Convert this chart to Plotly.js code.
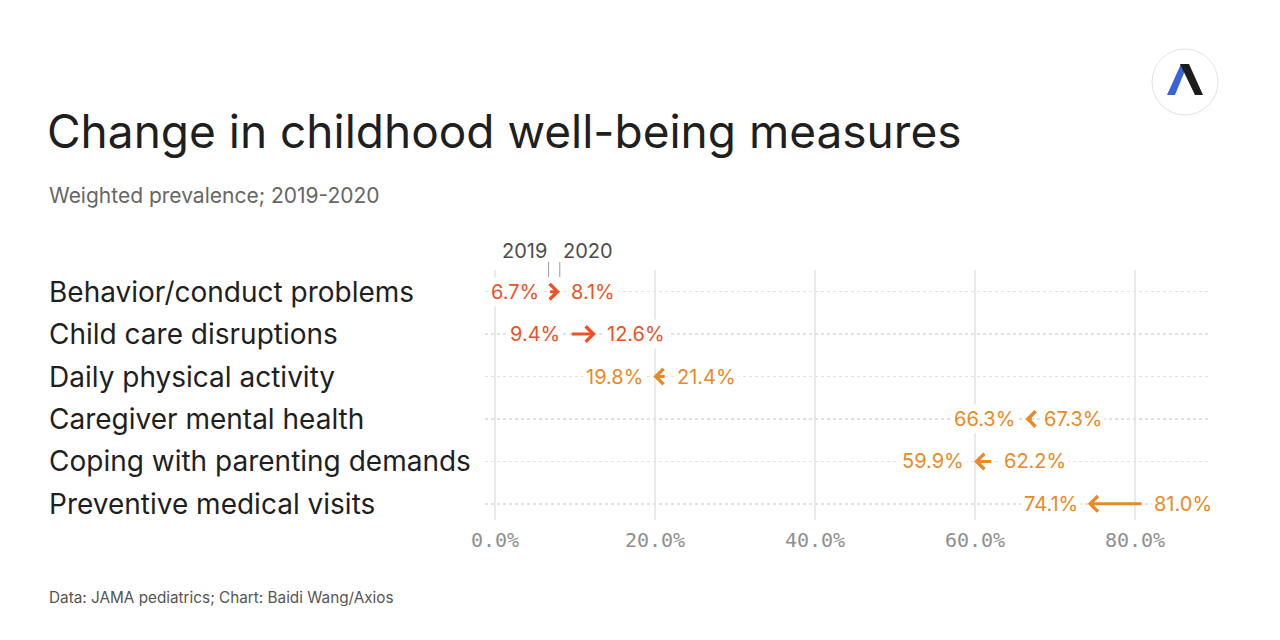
<!DOCTYPE html>
<html>
<head>
<meta charset="utf-8">
<script src="https://cdn.plot.ly/plotly-3.0.1.min.js"></script>
<style>html,body{margin:0;padding:0;background:#fff;}#chart{width:1280px;height:640px;}</style>
</head>
<body>
<div id="chart"></div>
<script>
// ---- data ----
const categories = [
  "Behavior/conduct problems",
  "Child care disruptions",
  "Daily physical activity",
  "Caregiver mental health",
  "Coping with parenting demands",
  "Preventive medical visits"
];
const values2019 = [6.7, 9.4, 21.4, 67.3, 62.2, 81.0];
const values2020 = [8.1, 12.6, 19.8, 66.3, 59.9, 74.1];
const tickValues = [0, 20, 40, 60, 80];
const tickLabels = ["0.0%", "20.0%", "40.0%", "60.0%", "80.0%"];
const yearLabels = ["2019", "2020"];

// ---- styling ----
const RED = "#EE5126";
const ORANGE = "#E98A26";
const SANS = "Inter, 'Noto Sans', sans-serif";

// plot area in pixels (for placing decorative items in paper coords)
const L = 485, R = 1211, T = 270, B = 520;
const px = x => (x - L) / (R - L);
const py = y => (B - y) / (B - T);
const pathOf = pts => 'M' + pts.map(p => px(p[0]).toFixed(5) + ',' + py(p[1]).toFixed(5)).join('L') + 'Z';

const fmt = v => v.toFixed(1) + '%';

const annotations = [];
const shapes = [];

// category labels
categories.forEach((c, i) => {
  annotations.push({
    text: c, xref: 'paper', x: px(47), xanchor: 'left',
    yref: 'y', y: i, yanchor: 'middle', showarrow: false,
    font: {family: SANS, size: 28, color: '#1f1f1f'}
  });
});

// arrows and value labels
categories.forEach((c, i) => {
  const a = values2019[i], b = values2020[i];
  const color = b > a ? RED : ORANGE;
  annotations.push({
    x: b, y: i, xref: 'x', yref: 'y',
    ax: a, ay: i, axref: 'x', ayref: 'y',
    text: '', showarrow: true, arrowhead: 4, arrowsize: 1.0,
    arrowwidth: 3, arrowcolor: color, standoff: 0, startstandoff: 0
  });
  const lo = Math.min(a, b), hi = Math.max(a, b);
  annotations.push({
    text: fmt(lo), x: lo, y: i, xref: 'x', yref: 'y', xanchor: 'right', yanchor: 'middle',
    xshift: -7, showarrow: false, bgcolor: '#ffffff', borderpad: 2,
    font: {family: SANS, size: 20, color: color}
  });
  annotations.push({
    text: fmt(hi), x: hi, y: i, xref: 'x', yref: 'y', xanchor: 'left', yanchor: 'middle',
    xshift: 8, showarrow: false, bgcolor: '#ffffff', borderpad: 2,
    font: {family: SANS, size: 20, color: color}
  });
});

// year key above first row
annotations.push({
  text: yearLabels[0], x: values2019[0], xref: 'x', xanchor: 'right', xshift: 0,
  y: py(251), yref: 'paper', yanchor: 'middle', showarrow: false,
  font: {family: SANS, size: 20, color: '#4d4d4d'}
});
annotations.push({
  text: yearLabels[1], x: values2020[0], xref: 'x', xanchor: 'left', xshift: 1,
  y: py(251), yref: 'paper', yanchor: 'middle', showarrow: false,
  font: {family: SANS, size: 20, color: '#4d4d4d'}
});
[values2019[0], values2020[0]].forEach(v => {
  shapes.push({type: 'line', xref: 'x', yref: 'paper', x0: v, x1: v,
    y0: py(277), y1: py(262), line: {color: '#9a9a9a', width: 1}});
});

// subtitle and footer
annotations.push({
  text: 'Weighted prevalence; 2019-2020', xref: 'paper', x: px(47), xanchor: 'left',
  yref: 'paper', y: py(195), yanchor: 'middle', showarrow: false,
  font: {family: SANS, size: 21, color: '#666666'}
});
annotations.push({
  text: 'Data: JAMA pediatrics; Chart: Baidi Wang/Axios', xref: 'paper', x: px(47), xanchor: 'left',
  yref: 'paper', y: py(597), yanchor: 'middle', showarrow: false,
  font: {family: SANS, size: 15.3, color: '#555555'}
});

// logo
shapes.push({type: 'circle', xref: 'paper', yref: 'paper',
  x0: px(1152), x1: px(1218), y0: py(115), y1: py(49),
  line: {color: '#e2e2e2', width: 1}, fillcolor: '#ffffff'});
shapes.push({type: 'path', xref: 'paper', yref: 'paper',
  path: pathOf([[1167, 95], [1175, 95], [1186, 68], [1181, 64]]),
  fillcolor: '#3a63d8', line: {width: 0}});
shapes.push({type: 'path', xref: 'paper', yref: 'paper',
  path: pathOf([[1180, 64], [1189, 64], [1203, 95], [1195, 95]]),
  fillcolor: '#1c1c1c', line: {width: 0}});

const layout = {
  width: 1280, height: 640,
  paper_bgcolor: '#ffffff', plot_bgcolor: '#ffffff',
  margin: {l: L, r: 1280 - R, t: T, b: 640 - B},
  showlegend: false,
  title: {
    text: 'Change in childhood well-being measures',
    xref: 'container', x: 47 / 1280, xanchor: 'left',
    yref: 'container', y: 1 - 132 / 640, yanchor: 'middle',
    font: {family: SANS, size: 46, color: '#1f1f1f'}
  },
  xaxis: {
    range: [-1.25, 89.5], tickvals: tickValues, ticktext: tickLabels,
    showgrid: true, gridcolor: '#e9e9e9', gridwidth: 1.5,
    zeroline: false, showline: false, ticks: '', ticklabelstandoff: 6,
    tickfont: {family: "'DejaVu Sans Mono', monospace", size: 20, color: '#8f8f8f'},
    fixedrange: true
  },
  yaxis: {
    range: [5.38, -0.51], tickvals: categories.map((c, i) => i),
    showticklabels: false, showgrid: true, gridcolor: '#e2e2e2', gridwidth: 1.5,
    griddash: 'dot', zeroline: false, showline: false, ticks: '', fixedrange: true
  },
  annotations: annotations,
  shapes: shapes
};

// invisible trace to anchor the axes to the data
const traces = [{
  type: 'scatter', mode: 'markers',
  x: values2019.concat(values2020),
  y: categories.map((c, i) => i).concat(categories.map((c, i) => i)),
  marker: {size: 1, color: 'rgba(0,0,0,0)'}, hoverinfo: 'skip'
}];

Plotly.newPlot('chart', traces, layout, {displayModeBar: false, staticPlot: true});
</script>
</body>
</html>
